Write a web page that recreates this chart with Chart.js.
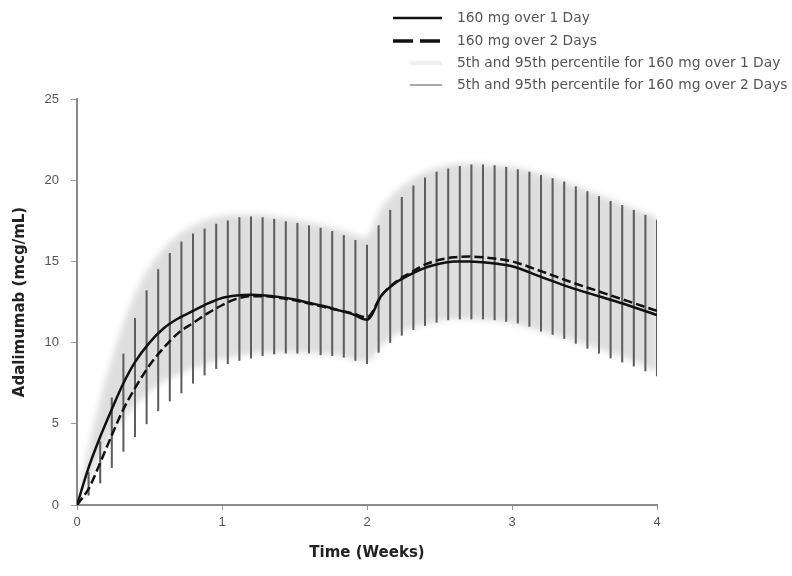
<!DOCTYPE html>
<html>
<head>
<meta charset="utf-8">
<script src="https://cdn.jsdelivr.net/npm/chart.js@4.4.1/dist/chart.umd.min.js"></script>
<style>
  html, body { margin: 0; padding: 0; background: #fff; }
  #wrap { width: 792px; height: 576px; }
</style>
</head>
<body>
<div id="wrap"><canvas id="chart" width="792" height="576"></canvas></div>
<script>
// weeks at which the 2-day percentile bars are drawn
const barTime = [0.08, 0.16, 0.24, 0.32, 0.40, 0.48, 0.56, 0.64, 0.72, 0.80,
  0.88, 0.96, 1.04, 1.12, 1.20, 1.28, 1.36, 1.44, 1.52, 1.60,
  1.68, 1.76, 1.84, 1.92, 2.00, 2.08, 2.16, 2.24, 2.32, 2.40,
  2.48, 2.56, 2.64, 2.72, 2.80, 2.88, 2.96, 3.04, 3.12, 3.20,
  3.28, 3.36, 3.44, 3.52, 3.60, 3.68, 3.76, 3.84, 3.92, 4.00];
const low2Day = [0.6, 1.35, 2.3, 3.3, 4.2, 5.0, 5.8, 6.4, 6.9, 7.5,
  8.0, 8.4, 8.7, 8.9, 9.05, 9.2, 9.3, 9.35, 9.35, 9.35,
  9.25, 9.2, 9.1, 8.9, 8.7, 9.4, 10.0, 10.45, 10.8, 11.05,
  11.25, 11.4, 11.45, 11.45, 11.45, 11.4, 11.3, 11.2, 11.0, 10.7,
  10.5, 10.25, 9.95, 9.65, 9.35, 9.05, 8.8, 8.55, 8.25, 7.95];
const high2Day = [2.0, 3.9, 6.6, 9.3, 11.5, 13.2, 14.5, 15.5, 16.2, 16.7,
  17.0, 17.3, 17.5, 17.7, 17.75, 17.7, 17.6, 17.45, 17.35, 17.2,
  17.05, 16.85, 16.6, 16.3, 16.0, 17.2, 18.15, 18.95, 19.65, 20.15,
  20.5, 20.7, 20.85, 20.95, 20.95, 20.9, 20.8, 20.65, 20.5, 20.3,
  20.1, 19.9, 19.6, 19.3, 19.0, 18.7, 18.45, 18.15, 17.85, 17.55];

// mean curves
const meanTime = [0, 0.08, 0.16, 0.24, 0.32, 0.4, 0.5, 0.6, 0.7, 0.8, 0.9, 1.0,
  1.1, 1.2, 1.3, 1.4, 1.5, 1.6, 1.7, 1.8, 1.9, 2.0,
  2.1, 2.2, 2.3, 2.4, 2.5, 2.6, 2.7, 2.8, 2.9, 3.0, 3.2, 3.4, 3.6, 3.8, 4.0];
const mean1Day = [0, 2.3, 4.2, 5.9, 7.5, 8.8, 10.0, 10.9, 11.5, 11.95, 12.4, 12.75,
  12.9, 12.95, 12.9, 12.8, 12.65, 12.45, 12.25, 12.0, 11.75, 11.4,
  12.9, 13.7, 14.2, 14.6, 14.85, 15.0, 15.0, 14.95, 14.85, 14.7, 14.05, 13.4, 12.85, 12.3, 11.7];
const mean2Day = [0, 1.0, 2.6, 4.3, 5.9, 7.2, 8.6, 9.7, 10.6, 11.2, 11.8, 12.3,
  12.7, 12.85, 12.85, 12.75, 12.6, 12.4, 12.2, 12.0, 11.8, 11.55,
  12.9, 13.75, 14.3, 14.8, 15.1, 15.25, 15.3, 15.25, 15.15, 15.0, 14.4, 13.75, 13.15, 12.55, 11.95];

// 5th / 95th percentile band, 1-day regimen
const bandTime = [0, 0.08, 0.16, 0.24, 0.32, 0.4, 0.48, 0.56, 0.64, 0.72, 0.8, 0.9, 1.0,
  1.2, 1.4, 1.6, 1.8, 1.9, 2.0, 2.1, 2.2, 2.3, 2.4, 2.5, 2.6, 2.8, 3.0, 3.2, 3.4, 3.6, 3.8, 4.0];
const low1Day = [0, 1.5, 3.0, 4.3, 5.3, 6.1, 6.8, 7.4, 7.8, 8.1, 8.4, 8.7, 9.0,
  9.3, 9.4, 9.35, 9.2, 9.0, 8.8, 9.8, 10.5, 10.9, 11.1, 11.35, 11.45, 11.4, 11.2, 10.7, 10.2, 9.6, 9.0, 8.2];
const high1Day = [0, 3.5, 6.5, 9.0, 11.2, 13.0, 14.4, 15.4, 16.2, 16.8, 17.2, 17.6, 17.8,
  17.9, 17.7, 17.4, 17.0, 16.7, 16.5, 18.3, 19.3, 20.0, 20.5, 20.8, 21.0, 21.0, 20.8, 20.4, 19.8, 19.1, 18.4, 17.7];

const legendLabels = [
  "160 mg over 1 Day",
  "160 mg over 2 Days",
  "5th and 95th percentile for 160 mg over 1 Day",
  "5th and 95th percentile for 160 mg over 2 Days"
];

const pts = (xs, ys) => xs.map((x, i) => ({ x: x, y: ys[i] }));

// soft edge for the shaded band: blur only the filler pass
const bandBlur = {
  id: 'bandBlur',
  beforeRender(chart) {
    chart.ctx.save();
    chart.ctx.filter = 'blur(3px)';
  },
  beforeDraw(chart) {
    chart.ctx.restore();
  }
};

const legendBox = {
  id: 'legendBox',
  afterDraw(chart) {
    const ctx = chart.ctx;
    const rows = [18, 41, 63, 85];
    ctx.save();
    ctx.strokeStyle = '#111';
    ctx.lineWidth = 2.5;
    ctx.beginPath(); ctx.moveTo(393, rows[0]); ctx.lineTo(442, rows[0]); ctx.stroke();
    ctx.lineWidth = 3.5;
    ctx.setLineDash([20, 7]);
    ctx.beginPath(); ctx.moveTo(393, rows[1]); ctx.lineTo(442, rows[1]); ctx.stroke();
    ctx.setLineDash([]);
    ctx.strokeStyle = '#f0f0f0';
    ctx.lineWidth = 4;
    ctx.beginPath(); ctx.moveTo(410, rows[2]); ctx.lineTo(442, rows[2]); ctx.stroke();
    ctx.strokeStyle = '#555';
    ctx.lineWidth = 1;
    ctx.beginPath(); ctx.moveTo(410, rows[3]); ctx.lineTo(442, rows[3]); ctx.stroke();

    ctx.fillStyle = '#555';
    ctx.font = '13.8px "DejaVu Sans"';
    ctx.textBaseline = 'middle';
    ctx.textAlign = 'left';
    legendLabels.forEach((t, i) => ctx.fillText(t, 457, rows[i]));
    ctx.restore();
  }
};

new Chart(document.getElementById('chart'), {
  type: 'line',
  data: {
    datasets: [
      {
        label: 'band high',
        data: pts(bandTime, high1Day),
        borderWidth: 0,
        pointRadius: 0,
        fill: '+1',
        backgroundColor: 'rgba(205,205,205,0.65)',
        tension: 0.3,
        order: 2
      },
      {
        label: 'band low',
        data: pts(bandTime, low1Day),
        borderWidth: 0,
        pointRadius: 0,
        fill: false,
        tension: 0.3,
        order: 2
      },
      {
        type: 'bar',
        label: legendLabels[3],
        data: barTime.map((t, i) => ({ x: t, y: [low2Day[i], high2Day[i]] })),
        backgroundColor: '#5e5e5e',
        barThickness: 1.4,
        grouped: false,
        order: 1
      },
      {
        label: legendLabels[1],
        data: pts(meanTime, mean2Day),
        borderColor: '#111',
        borderWidth: 2.5,
        borderDash: [9, 4],
        pointRadius: 0,
        fill: false,
        cubicInterpolationMode: 'monotone',
        order: 0
      },
      {
        label: legendLabels[0],
        data: pts(meanTime, mean1Day),
        borderColor: '#111',
        borderWidth: 2.5,
        pointRadius: 0,
        fill: false,
        cubicInterpolationMode: 'monotone',
        order: 0
      }
    ]
  },
  options: {
    responsive: false,
    animation: false,
    layout: { padding: { left: 8, top: 99, right: 135, bottom: 8 } },
    plugins: {
      legend: { display: false },
      tooltip: { enabled: false },
      filler: { drawTime: 'beforeDraw' }
    },
    scales: {
      x: {
        type: 'linear',
        min: 0,
        max: 4,
        offset: false,
        afterFit(scale) { scale.height = 63; },
        ticks: { stepSize: 1, color: '#555', padding: 5, font: { family: 'Liberation Sans', size: 13 } },
        grid: { offset: false, drawOnChartArea: false, drawTicks: true, tickLength: 5, color: '#999' },
        border: { color: '#8a8a8a', width: 2 },
        title: {
          display: true,
          text: 'Time (Weeks)',
          color: '#222',
          padding: { top: 0, bottom: 6 },
          font: { family: 'DejaVu Sans', size: 15, weight: 'bold' }
        }
      },
      y: {
        min: 0,
        max: 25,
        afterFit(scale) { scale.width = 69; },
        ticks: { stepSize: 5, color: '#555', padding: 12, font: { family: 'Liberation Sans', size: 13 } },
        grid: { drawOnChartArea: false, drawTicks: true, tickLength: 6, color: '#999' },
        border: { color: '#8a8a8a', width: 2 },
        title: {
          display: true,
          text: 'Adalimumab (mcg/mL)',
          color: '#222',
          padding: { top: 3, bottom: 0 },
          font: { family: 'DejaVu Sans', size: 15, weight: 'bold' }
        }
      }
    }
  },
  plugins: [bandBlur, legendBox]
});
</script>
</body>
</html>
